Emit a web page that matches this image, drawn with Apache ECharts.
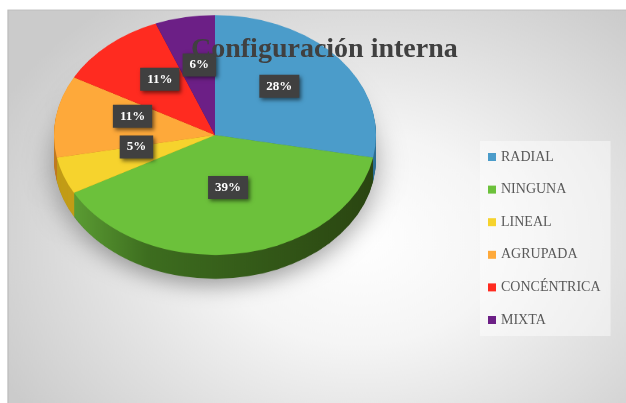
<!DOCTYPE html>
<html>
<head>
<meta charset="utf-8">
<title>Configuración interna</title>
<script src="https://cdn.jsdelivr.net/npm/echarts@6/dist/echarts.min.js"></script>
<style>
html, body { margin: 0; padding: 0; background: #fff; }
#wrap { position: relative; width: 626px; height: 403px; overflow: hidden; }
/* the pie layer is squashed vertically to fake the tilted 3D disc */
#pie { position: absolute; left: 0; top: 0; width: 626px; height: 541px; transform: scaleY(0.745); transform-origin: 0 0; }
#front { position: absolute; left: 0; top: 0; width: 626px; height: 403px; }
</style>
</head>
<body>
<div id="wrap">
    <div id="pie"></div>
    <div id="front"></div>
</div>
<script>
const categories = ["RADIAL", "NINGUNA", "LINEAL", "AGRUPADA", "CONCÉNTRICA", "MIXTA"];
const values = [28, 39, 5, 11, 11, 6];
const faceColors = ["#4b9cca", "#6cc13b", "#f6d32d", "#fea93a", "#ff2b20", "#6c1f86"];
const sideColors = ["#2f6f94", null, "#c29c17", "#c07a20", "#b01c14", "#4a1460"];

const SQUASH = 0.745;
const CX = 215, CY = 135, R = 161, DEPTH = 24;

const pieChart = echarts.init(document.getElementById("pie"));
const frontChart = echarts.init(document.getElementById("front"));

// green side gets a left-to-right shade like the original
const greenSide = new echarts.graphic.LinearGradient(0, 0, 1, 0, [
    { offset: 0, color: "#5b9c33" },
    { offset: 0.25, color: "#3d6d1f" },
    { offset: 1, color: "#2a4511" },
]);

function pieLayer(cy, colors, extra) {
    return Object.assign({
        type: "pie",
        center: [CX, cy],
        radius: R,
        startAngle: 90,
        clockwise: true,
        silent: true,
        animation: false,
        label: { show: false },
        labelLine: { show: false },
        emphasis: { disabled: true },
        data: values.map((v, i) => ({
            name: categories[i],
            value: v,
            itemStyle: { color: colors[i] || greenSide, borderWidth: 0 },
        })),
    }, extra || {});
}

const cyA = CY / SQUASH;
const steps = Math.round(DEPTH / SQUASH);
const layers = [];
for (let i = steps; i >= 1; i--) {
    const extra = i === steps ? {
        itemStyle: { shadowBlur: 28, shadowColor: "rgba(0,0,0,0.35)", shadowOffsetY: 10 },
    } : {};
    layers.push(pieLayer(cyA + i, sideColors, extra));
}
layers.push(pieLayer(cyA, faceColors));

pieChart.setOption({
    graphic: [{
        type: "rect",
        z: -10,
        silent: true,
        shape: { x: 8, y: 10 / SQUASH, width: 640, height: 560 },
        style: {
            fill: new echarts.graphic.RadialGradient(0.55, 0.55, 0.72, [
                { offset: 0, color: "#ffffff" },
                { offset: 0.35, color: "#f5f5f5" },
                { offset: 1, color: "#cbcbcb" },
            ]),
            stroke: "#bdbdbd",
            lineWidth: 1.3,
        },
    }],
    series: layers,
});

frontChart.setOption({
    title: {
        text: "Configuración interna",
        left: 186,
        top: 31,
        textStyle: { fontFamily: "Liberation Serif", fontWeight: "bold", fontSize: 28, color: "#404040" },
    },
    legend: {
        orient: "vertical",
        left: 480,
        top: 141,
        padding: [9, 10, 9, 8],
        itemGap: 18.6,
        itemWidth: 8,
        itemHeight: 8,
        icon: "rect",
        selectedMode: false,
        backgroundColor: "rgba(255,255,255,0.45)",
        textStyle: { fontFamily: "Liberation Serif", fontSize: 14, color: "#595959" },
        data: categories.map((c, i) => ({ name: c, itemStyle: { color: faceColors[i], opacity: 1 } })),
    },
    series: [{
        type: "pie",
        center: [CX, CY],
        radius: R,
        startAngle: 90,
        clockwise: true,
        silent: true,
        animation: false,
        emphasis: { disabled: true },
        itemStyle: { color: "rgba(0,0,0,0)", borderWidth: 0 },
        data: values.map((v, i) => ({ name: categories[i], value: v })),
        label: {
            show: true,
            position: "inside",
            formatter: "{d}%",
            color: "#fff",
            fontFamily: "Liberation Serif",
            fontWeight: "bold",
            fontSize: 13,
            backgroundColor: "#404040",
            padding: [5, 7],
            shadowBlur: 4,
            shadowColor: "rgba(0,0,0,0.55)",
            shadowOffsetX: 2,
            shadowOffsetY: 2,
        },
        labelLine: { show: false },
        // move the labels onto the squashed disc
        labelLayout: function (p) {
            const lx = p.labelRect.x + p.labelRect.width / 2;
            const ly = p.labelRect.y + p.labelRect.height / 2;
            return { x: lx, y: CY + (ly - CY) * SQUASH - 9, align: "center", verticalAlign: "middle" };
        },
    }],
});
</script>
</body>
</html>
